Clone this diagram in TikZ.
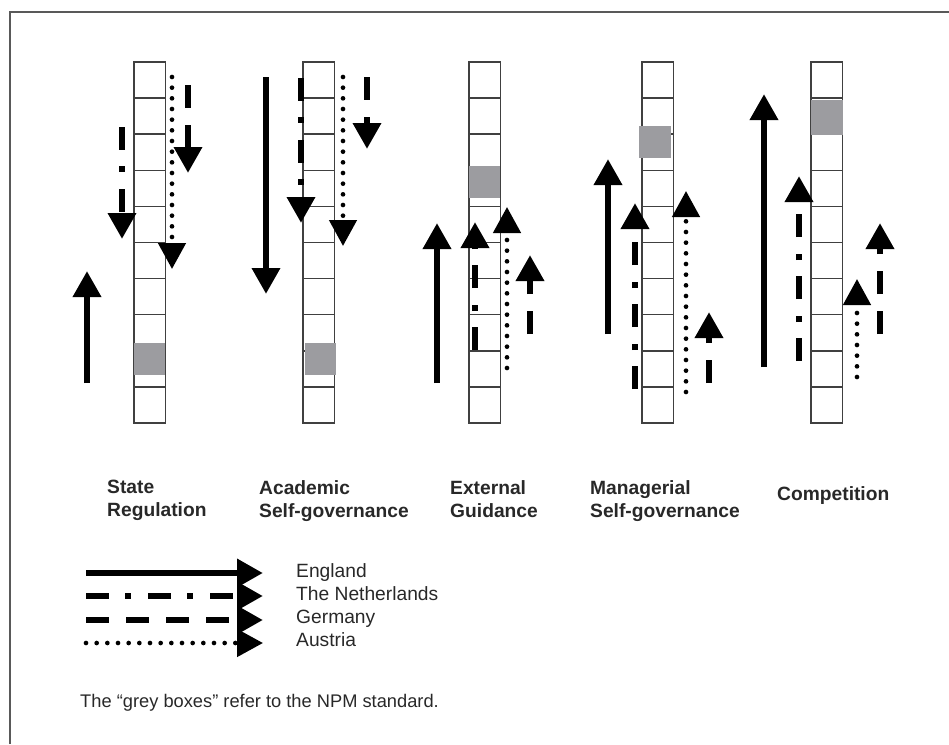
\documentclass[tikz,border=0pt]{standalone}
\usepackage{fontspec}
\setmainfont{Liberation Sans}
\usetikzlibrary{arrows.meta}
\definecolor{npmgrey}{RGB}{156,156,160}
\definecolor{inkgrey}{RGB}{40,40,40}
\begin{document}
\begin{tikzpicture}[x=0.03cm,y=-0.03cm,
  bigtip/.style={-{Triangle[width=0.81cm,length=0.78cm]}},
  england/.style={bigtip,line width=0.2cm},
  netherlands/.style={bigtip,line width=0.2cm,dash pattern=on 0.69cm off 0.48cm on 0.18cm off 0.51cm},
  germany/.style={bigtip,line width=0.2cm,dash pattern=on 0.69cm off 0.51cm},
  austria/.style={bigtip,line width=0.14cm,line cap=round,dash pattern=on 0cm off 0.32cm},
  ladder/.style={draw=black!75,line width=0.045cm},
  npmbox/.style={fill=npmgrey},
  heading/.style={anchor=north west,inner sep=0pt,align=left,text=inkgrey,font=\fontsize{16.4}{19.6}\selectfont\bfseries},
  key/.style={anchor=base west,inner sep=0pt,text=inkgrey,font=\fontsize{16.4}{19}\selectfont}]
\useasboundingbox (0,0) rectangle (949,744);
\draw[black!65,line width=0.06cm] (10,744) -- (10,12) -- (949,12);
\foreach \x in {134,303,469,642,811}{
  \draw[ladder] (\x,62) rectangle ++(31.5,361);
  \foreach \k in {1,...,9} \draw[ladder] (\x,{62+36.1*\k}) -- ++(31.5,0);
}
\fill[npmbox] (134,343) rectangle (165,375);
\fill[npmbox] (305,343) rectangle (336,375);
\fill[npmbox] (469,166) rectangle (500,198);
\fill[npmbox] (639,126) rectangle (671,158);
\fill[npmbox] (811,100) rectangle (843,135);
\draw[england] (87,383) -- (87,271);
\draw[netherlands] (122,127) -- (122,239);
\draw[austria] (172,77) -- (172,269);
\draw[germany] (188,85) -- (188,173);
\draw[england] (266,77) -- (266,294);
\draw[netherlands] (301,78) -- (301,223);
\draw[austria] (343,77) -- (343,246);
\draw[germany] (367,77) -- (367,149);
\draw[england] (437,383) -- (437,223);
\draw[netherlands] (475,350) -- (475,222);
\draw[austria] (507,368) -- (507,207);
\draw[germany] (530,334) -- (530,255);
\draw[england] (608,334) -- (608,159);
\draw[netherlands] (635,389) -- (635,203);
\draw[austria] (686,392) -- (686,191);
\draw[germany] (709,383) -- (709,312);
\draw[england] (764,367) -- (764,94);
\draw[netherlands] (799,361) -- (799,176);
\draw[austria] (857,377) -- (857,279);
\draw[germany] (880,334) -- (880,223);
\node[heading] (sr) at (107,480) {State\\Regulation};
\node[heading] (as) at (259,480) {Academic\\Self-governance};
\node[heading] (eg) at (450,480) {External\\Guidance};
\node[heading] (ms) at (590,480) {Managerial\\Self-governance};
\node[heading] (co) at (777,486) {Competition};
\draw[england] (86,573) -- (263,573);
\draw[netherlands] (86,596) -- (263,596);
\draw[germany] (86,620) -- (263,620);
\draw[austria] (86,643) -- (263,643);
\node[key] (eng) at (296,577) {England};
\node[key] (nl) at (296,600) {The Netherlands};
\node[key] (ger) at (296,623) {Germany};
\node[key] (aut) at (296,646) {Austria};
\node[key,font=\fontsize{15.6}{18}\selectfont] (note) at (80,707) {The “grey boxes” refer to the NPM standard.};
\end{tikzpicture}
\end{document}
